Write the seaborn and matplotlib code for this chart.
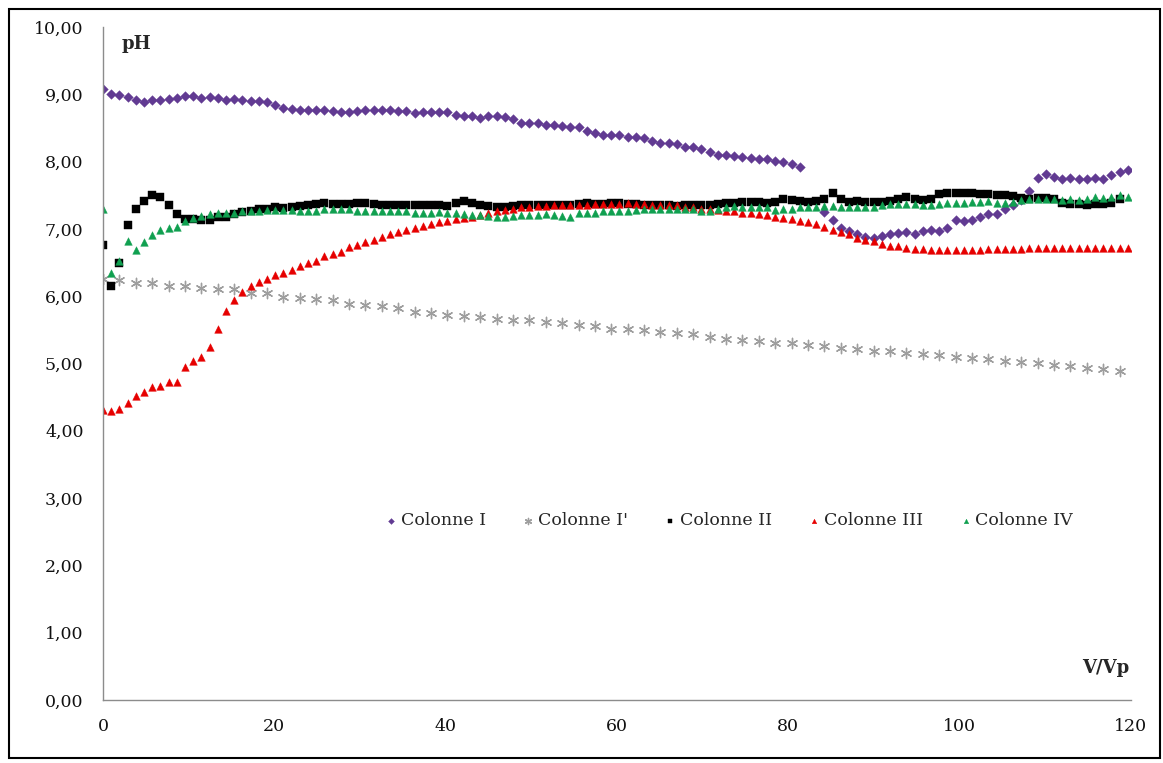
import numpy as np
import pandas as pd
import matplotlib
matplotlib.use("Agg")
import matplotlib.pyplot as plt
import seaborn as sns
from matplotlib.patches import Rectangle
from matplotlib.ticker import FuncFormatter

nan = np.nan

# sampling step in V/Vp (Colonne I' was sampled every second step)
STEP = 0.957

col_1 = [9.08, 9.00, 8.99, 8.96, 8.91, 8.89, 8.91, 8.92, 8.93, 8.94,
         8.98, 8.98, 8.95, 8.96, 8.95, 8.92, 8.93, 8.92, 8.90, 8.90,
         8.88, 8.84, 8.80, 8.78, 8.77, 8.76, 8.76, 8.76, 8.75, 8.73,
         8.74, 8.75, 8.76, 8.76, 8.76, 8.76, 8.75, 8.75, 8.72, 8.73,
         8.74, 8.74, 8.73, 8.69, 8.68, 8.68, 8.65, 8.68, 8.68, 8.66,
         8.63, 8.58, 8.58, 8.57, 8.55, 8.54, 8.53, 8.51, 8.51, 8.46,
         8.42, 8.40, 8.40, 8.39, 8.37, 8.36, 8.35, 8.31, 8.28, 8.28,
         8.26, 8.22, 8.21, 8.18, 8.14, 8.10, 8.10, 8.09, 8.07, 8.06,
         8.04, 8.04, 8.01, 8.00, 7.96, 7.92, nan, nan, 7.25, 7.13,
         7.02, 6.97, 6.92, 6.88, 6.86, 6.89, 6.93, 6.94, 6.95, 6.93,
         6.97, 6.98, 6.97, 7.01, 7.13, 7.11, 7.13, 7.18, 7.22, 7.22,
         7.29, 7.36, 7.43, 7.57, 7.75, 7.82, 7.77, 7.74, 7.75, 7.74,
         7.74, 7.75, 7.74, 7.80, 7.84, 7.88]

col_1b = [6.25, 6.24, 6.19, 6.19, 6.15, 6.15, 6.12, 6.11, 6.10, 6.05,
          6.05, 5.99, 5.98, 5.96, 5.95, 5.89, 5.87, 5.85, 5.82, 5.77,
          5.75, 5.72, 5.71, 5.69, 5.66, 5.65, 5.64, 5.61, 5.60, 5.57,
          5.55, 5.52, 5.51, 5.50, 5.47, 5.46, 5.44, 5.40, 5.37, 5.35,
          5.34, 5.31, 5.30, 5.28, 5.26, 5.23, 5.21, 5.19, 5.18, 5.16,
          5.14, 5.12, 5.10, 5.08, 5.07, 5.04, 5.02, 5.01, 4.98, 4.97,
          4.94, 4.92, 4.89]

col_2 = [6.76, 6.15, 6.49, 7.06, 7.29, 7.42, 7.50, 7.48, 7.36, 7.22,
         7.14, 7.14, 7.13, 7.13, 7.17, 7.18, 7.22, 7.25, 7.27, 7.30,
         7.30, 7.32, 7.31, 7.33, 7.34, 7.36, 7.37, 7.38, 7.37, 7.37,
         7.37, 7.38, 7.38, 7.37, 7.36, 7.36, 7.35, 7.36, 7.36, 7.36,
         7.36, 7.35, 7.34, 7.39, 7.41, 7.39, 7.36, 7.34, 7.33, 7.33,
         7.34, 7.35, 7.35, 7.36, 7.36, 7.36, 7.36, 7.36, 7.37, 7.38,
         7.37, 7.37, 7.38, 7.38, 7.37, 7.37, 7.36, 7.36, 7.36, 7.35,
         7.34, 7.35, 7.35, 7.36, 7.36, 7.37, 7.38, 7.39, 7.40, 7.40,
         7.40, 7.39, 7.40, 7.44, 7.43, 7.42, 7.40, 7.42, 7.44, 7.53,
         7.45, 7.40, 7.42, 7.40, 7.40, 7.40, 7.42, 7.44, 7.47, 7.45,
         7.43, 7.45, 7.52, 7.54, 7.53, 7.53, 7.53, 7.52, 7.52, 7.51,
         7.50, 7.49, 7.46, 7.44, 7.46, 7.46, 7.44, 7.39, 7.37, 7.37,
         7.36, 7.37, 7.37, 7.38, 7.44]

col_3 = [4.31, 4.29, 4.32, 4.42, 4.51, 4.57, 4.65, 4.67, 4.73, 4.72,
         4.95, 5.04, 5.09, 5.24, 5.52, 5.78, 5.95, 6.06, 6.15, 6.21,
         6.25, 6.31, 6.35, 6.39, 6.45, 6.49, 6.53, 6.59, 6.63, 6.66,
         6.73, 6.76, 6.80, 6.83, 6.88, 6.92, 6.96, 6.98, 7.02, 7.05,
         7.07, 7.10, 7.12, 7.14, 7.16, 7.18, 7.21, 7.23, 7.26, 7.28,
         7.30, 7.32, 7.32, 7.34, 7.34, 7.36, 7.36, 7.36, 7.36, 7.36,
         7.37, 7.37, 7.37, 7.37, 7.38, 7.37, 7.37, 7.36, 7.36, 7.36,
         7.36, 7.33, 7.32, 7.30, 7.29, 7.28, 7.27, 7.26, 7.24, 7.23,
         7.22, 7.20, 7.18, 7.16, 7.15, 7.12, 7.10, 7.07, 7.03, 6.99,
         6.96, 6.92, 6.87, 6.84, 6.82, 6.77, 6.75, 6.74, 6.71, 6.70,
         6.70, 6.69, 6.69, 6.68, 6.68, 6.68, 6.68, 6.69, 6.70, 6.70,
         6.70, 6.70, 6.70, 6.71, 6.71, 6.71, 6.71, 6.71, 6.71, 6.71,
         6.72, 6.72, 6.72, 6.72, 6.72, 6.72]

col_4 = [7.29, 6.35, 6.53, 6.82, 6.69, 6.81, 6.91, 6.98, 7.02, 7.03,
         7.11, 7.16, 7.19, 7.22, 7.23, 7.23, 7.23, 7.26, 7.27, 7.27,
         7.28, 7.28, 7.28, 7.28, 7.26, 7.26, 7.27, 7.29, 7.29, 7.29,
         7.29, 7.27, 7.27, 7.27, 7.27, 7.27, 7.27, 7.26, 7.24, 7.24,
         7.24, 7.25, 7.24, 7.24, 7.22, 7.21, 7.21, 7.19, 7.18, 7.17,
         7.19, 7.21, 7.21, 7.21, 7.22, 7.21, 7.19, 7.18, 7.24, 7.24,
         7.24, 7.26, 7.27, 7.27, 7.26, 7.28, 7.29, 7.30, 7.29, 7.30,
         7.29, 7.30, 7.29, 7.26, 7.27, 7.30, 7.33, 7.34, 7.33, 7.32,
         7.33, 7.32, 7.28, 7.29, 7.29, 7.32, 7.33, 7.33, 7.34, 7.34,
         7.33, 7.32, 7.32, 7.32, 7.33, 7.36, 7.37, 7.37, 7.37, 7.37,
         7.36, 7.36, 7.37, 7.39, 7.39, 7.39, 7.40, 7.40, 7.41, 7.39,
         7.39, 7.40, 7.43, 7.44, 7.44, 7.44, 7.44, 7.43, 7.44, 7.43,
         7.45, 7.47, 7.46, 7.48, 7.50, 7.48]

series_names = ["Colonne I", "Colonne I'", "Colonne II", "Colonne III", "Colonne IV"]
series_vals = [col_1, col_1b, col_2, col_3, col_4]
series_steps = [STEP, 2 * STEP, STEP, STEP, STEP]
colors = ["#613A92", "#9E9E9E", "#000000", "#E60000", "#10A050"]
markers = ["D", (6, 2, 0), "s", "^", "^"]
sizes = [24, 55, 34, 30, 30]

x_ticks = [0, 20, 40, 60, 80, 100, 120]
y_ticks = [0, 1, 2, 3, 4, 5, 6, 7, 8, 9, 10]

sns.set_theme(style="white")
plt.rcParams["font.family"] = ["DejaVu Serif"]

fig = plt.figure(figsize=(11.63, 7.63), dpi=100)
ax = fig.add_axes([103 / 1163, 63 / 763, 1028 / 1163, 673 / 763])

for name, vals, step, col, mk, sz in zip(series_names, series_vals, series_steps,
                                         colors, markers, sizes):
    df = pd.DataFrame({"V/Vp": np.arange(len(vals)) * step, "pH": vals})
    if isinstance(mk, tuple):
        sns.scatterplot(data=df, x="V/Vp", y="pH", ax=ax, marker=mk, s=sz,
                        color=col, linewidth=1.0, label=name)
    else:
        sns.scatterplot(data=df, x="V/Vp", y="pH", ax=ax, marker=mk, s=sz,
                        color=col, edgecolor=col, linewidth=0.3, label=name)

ax.set_xlim(0, 120)
ax.set_ylim(0, 10)
ax.set_xticks(x_ticks)
ax.set_yticks(y_ticks)
ax.yaxis.set_major_formatter(FuncFormatter(lambda v, p: f"{v:.2f}".replace(".", ",")))
ax.tick_params(axis="both", length=0, labelsize=12.5, colors="#111111")
ax.tick_params(axis="y", pad=14)
ax.tick_params(axis="x", pad=13)
ax.set_xlabel("")
ax.set_ylabel("")

for side in ["top", "right"]:
    ax.spines[side].set_visible(False)
for side in ["left", "bottom"]:
    ax.spines[side].set_color("#8C8C8C")
    ax.spines[side].set_linewidth(1.0)

ax.text(2.2, 9.75, "pH", fontsize=13, fontweight="bold", va="center", ha="left")
ax.text(119.8, 0.47, "V/Vp", fontsize=13, fontweight="bold", va="center", ha="right")

leg = ax.legend(loc="center", bbox_to_anchor=(0.608, 0.266), ncol=5, frameon=False,
                fontsize=12.5, handletextpad=0.1, columnspacing=2.0,
                markerscale=0.6, handlelength=0.9)

fig.patches.append(Rectangle((9 / 1163, 5 / 763), 1151 / 1163, 749 / 763,
                             transform=fig.transFigure, fill=False,
                             edgecolor="black", linewidth=1.5))

fig.savefig("out.png", dpi=100)
